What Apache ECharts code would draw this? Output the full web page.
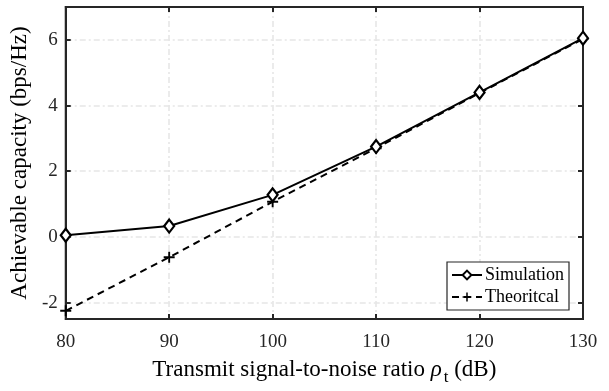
<!DOCTYPE html>
<html><head><meta charset="utf-8">
<script src="https://cdn.jsdelivr.net/npm/echarts@6/dist/echarts.min.js"></script>
<style>html,body{margin:0;padding:0;background:#fff}#c{width:609px;height:391px}</style>
</head><body><div id="c"></div>
<script>
const snr = [80, 90, 100, 110, 120, 130];
const simulation = [0.05, 0.33, 1.28, 2.75, 4.4, 6.05];
const theoretical = [-2.25, -0.62, 1.07, 2.7, 4.38, 6.03];
const xTicks = [80, 90, 100, 110, 120, 130];
const yTicks = [-2, 0, 2, 4, 6];

const font = 'Liberation Serif';
const plus = 'path://M-1,-0.17 L-0.17,-0.17 L-0.17,-1 L0.17,-1 L0.17,-0.17 L1,-0.17 L1,0.17 L0.17,0.17 L0.17,1 L-0.17,1 L-0.17,0.17 L-1,0.17 Z';
const grid = {type: [6, 3, 2, 3], color: '#e6e6e6', width: 1.6};
const axLine = {show: true, onZero: false, lineStyle: {color: '#262626', width: 2}};
const axTick = {inside: true, length: 5, lineStyle: {color: '#262626', width: 2}};
const chart = echarts.init(document.getElementById('c'));
chart.setOption({
  animation: false,
  backgroundColor: '#fff',
  grid: {left: 65, right: 26, top: 7, bottom: 68, show: true, borderColor: '#262626', borderWidth: 2, backgroundColor: 'transparent'},
  legend: {
    left: 447, top: 262, orient: 'vertical', backgroundColor: '#fff',
    borderColor: '#262626', borderWidth: 1.2, borderRadius: 0, padding: [4, 5, 4, 4], itemGap: 4,
    itemWidth: 30, itemHeight: 11,
    textStyle: {fontFamily: font, fontSize: 18, color: '#000', padding: [0, 0, 0, -2]},
    data: ['Simulation', 'Theoritcal']
  },
  xAxis: [{
    type: 'value', min: 80, max: 130, interval: 10,
    axisLine: axLine, axisTick: axTick,
    axisLabel: {fontFamily: font, fontSize: 19, color: '#262626', margin: 14,
      formatter: v => xTicks.includes(v) ? String(v) : ''},
    splitLine: {show: true, lineStyle: grid},
    name: '{a|Transmit signal-to-noise ratio }{i|ρ}{s|t}{a| (dB)}',
    nameLocation: 'middle', nameGap: 34,
    nameTextStyle: {rich: {
      a: {fontFamily: font, fontSize: 23, color: '#000'},
      i: {fontFamily: font, fontSize: 23, fontStyle: 'italic', color: '#000'},
      s: {fontFamily: font, fontSize: 17, color: '#000', verticalAlign: 'bottom', padding: [16, 0, 0, 2]}
    }}
  }, {
    type: 'value', position: 'top', min: 80, max: 130, interval: 10,
    axisLine: axLine, axisTick: axTick,
    axisLabel: {show: false}, splitLine: {show: false}
  }],
  yAxis: [{
    type: 'value', min: -2.5, max: 7,
    axisLine: axLine,
    axisTick: Object.assign({customValues: yTicks}, axTick),
    axisLabel: {fontFamily: font, fontSize: 19, color: '#262626', margin: 8, padding: [6, 0, 0, 0], customValues: yTicks},
    splitLine: {show: true, lineStyle: grid, customValues: yTicks},
    name: 'Achievable capacity (bps/Hz)', nameLocation: 'middle', nameGap: 30,
    nameTextStyle: {fontFamily: font, fontSize: 23, color: '#000'}
  }, {
    type: 'value', position: 'right', min: -2.5, max: 7,
    axisLine: axLine,
    axisTick: Object.assign({customValues: yTicks}, axTick),
    axisLabel: {show: false}, splitLine: {show: false}
  }],
  series: [{
    name: 'Simulation', type: 'line',
    data: snr.map((x, i) => [x, simulation[i]]),
    symbol: 'diamond', symbolSize: [10, 13],
    lineStyle: {color: '#000', width: 2, type: 'solid'},
    itemStyle: {color: '#fff', borderColor: '#000', borderWidth: 2.2}, z: 3
  }, {
    name: 'Theoritcal', type: 'line',
    data: snr.map((x, i) => [x, theoretical[i]]),
    symbol: plus, symbolSize: 11,
    lineStyle: {color: '#000', width: 2, type: [7, 5]},
    itemStyle: {color: '#000'}, z: 2
  }]
});
</script></body></html>
